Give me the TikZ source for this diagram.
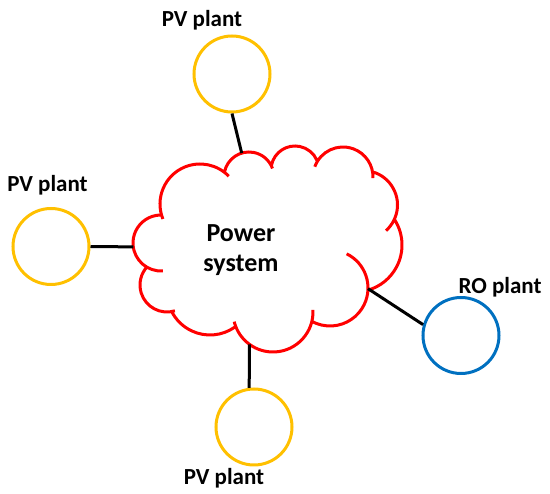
\documentclass[tikz,border=0pt]{standalone}
\usepackage{fontspec}
\setmainfont{Carlito}

\definecolor{amarelo}{HTML}{FFC000}
\definecolor{azul}{HTML}{0070C0}

\begin{document}
\begin{tikzpicture}[x=1pt, y=1pt, yscale=-1]

  % ── Estilos ────────────────────────
  \tikzset{
    usina/.style = {draw=amarelo, circle, line width=3pt, minimum size=76pt, inner sep=0pt},
    usinaro/.style = {usina, draw=azul},
    nuvem/.style = {draw=red, line width=3pt},
    ligacao/.style = {draw=black, line width=3pt},
    rotulo/.style = {font=\bfseries\fontsize{23}{27}\selectfont, anchor=base, inner sep=0pt}
  }

  \useasboundingbox (0,0) rectangle (550,494);

  % =========================================================
  % 1. NUVEM (sistema elétrico)
  % =========================================================
  % Cada bolha é um arco de círculo: centro, raio, ângulos
  \draw[nuvem]
    (200,204) ++(158:40)   arc[start angle=158, end angle=316, radius=40]    % bolha grande esquerda
    (249,177) ++(191:25)   arc[start angle=191, end angle=340, radius=25]
    (295,170) ++(192:24)   arc[start angle=192, end angle=336, radius=24]
    (343,177) ++(200:30)   arc[start angle=200, end angle=362, radius=30]
    (363,205) ++(286:34.5) arc[start angle=286, end angle=408, radius=34.5]
    (355,245) ++(-32:47)   arc[start angle=-32, end angle=74, radius=47]     % lado direito
    (330,288) ++(-64:38)   arc[start angle=-64, end angle=120, radius=38]
    (273,312) ++(-3:40)    arc[start angle=-3, end angle=166, radius=40]     % bolha de baixo
    (210,292) ++(55:43)    arc[start angle=55, end angle=154, radius=43]
    (167,285) ++(73:27)    arc[start angle=73, end angle=224, radius=27]
    (161,243) ++(86:28)    arc[start angle=86, end angle=268, radius=28];    % bolha pequena esquerda

  \node[font=\bfseries\fontsize{26}{30.5}\selectfont, align=center] (sistema) at (241,250) {Power\\system};

  % Pontos de ligação na nuvem
  \path (249,177) ++(253:25) coordinate (nuvemtopo);
  \path (161,243) ++(172:28) coordinate (nuvemesq);
  \path (273,312) ++(126:40) coordinate (nuvembaixo);
  \path (330,288) ++(1:38)   coordinate (nuvemdir);

  % =========================================================
  % 2. USINAS
  % =========================================================
  \node[usina] (pvtopo) at (232,74) {};
  \node[usina] (pvesq) at (51,246.5) {};
  \node[usina] (pvbaixo) at (254,427) {};
  \node[usinaro] (ro) at (461,335.5) {};

  % Rótulos
  \node[rotulo] (rotulotopo) at (202,26.5) {PV plant};
  \node[rotulo] (rotuloesq) at (47.5,191.5) {PV plant};
  \node[rotulo] (rotulobaixo) at (224,485) {PV plant};
  \node[rotulo] (rotulo-ro) at (500,294) {RO plant};

  % Ligações
  \draw[ligacao] (nuvemtopo) -- (pvtopo.south);
  \draw[ligacao] (nuvemesq) -- (pvesq.east);
  \draw[ligacao] (nuvembaixo) -- (pvbaixo.97);
  \draw[ligacao] (nuvemdir) -- (ro.164);

\end{tikzpicture}
\end{document}
